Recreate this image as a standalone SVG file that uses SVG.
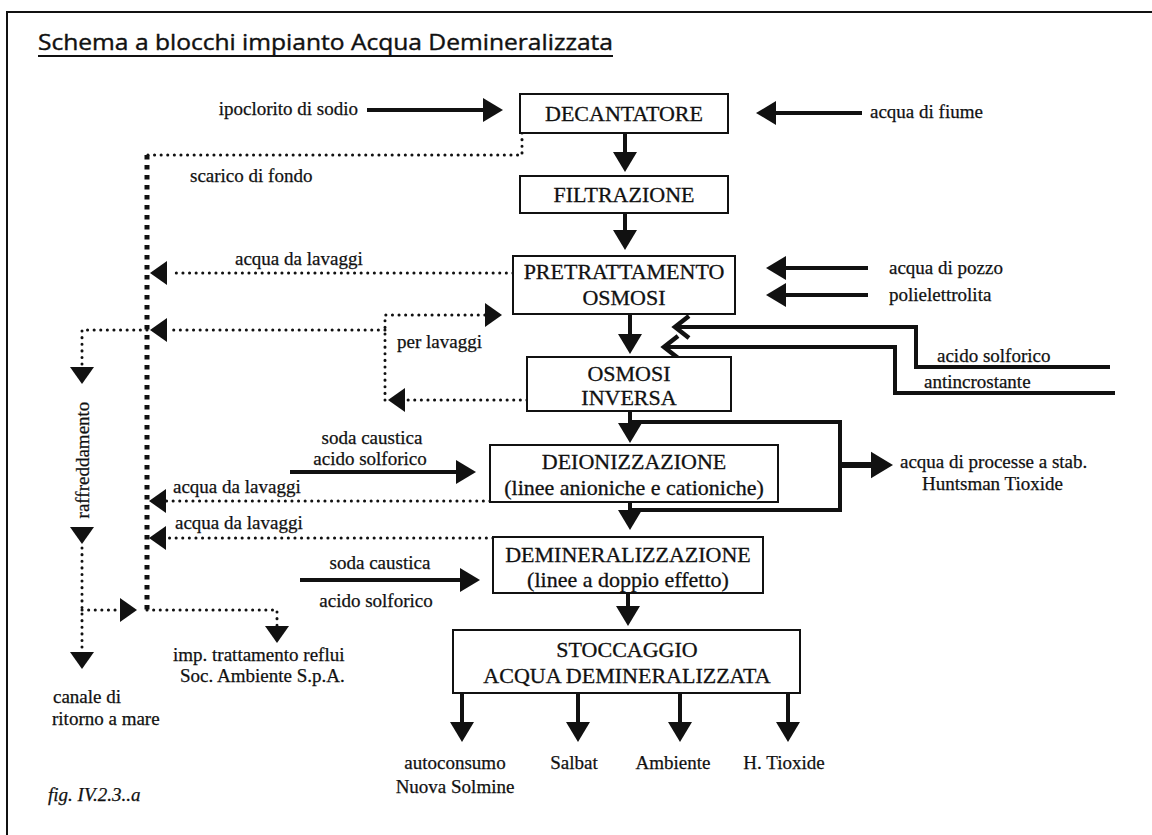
<svg xmlns="http://www.w3.org/2000/svg" xmlns:xlink="http://www.w3.org/1999/xlink" width="1152" height="835" viewBox="0 0 1152 835">
  <style>
    .box { fill: #fff; stroke: #111; stroke-width: 2; }
    .bt { font-family: "Liberation Serif", "Times New Roman", serif; font-size: 22px; fill: #111; stroke: #111; stroke-width: 0.3; text-anchor: middle; }
    .lb { font-family: "Liberation Serif", "Times New Roman", serif; font-size: 19px; fill: #111; stroke: #111; stroke-width: 0.25; }
    .mid { text-anchor: middle; }
    .solid { fill: none; stroke: #111; stroke-width: 4; }
    .dot { fill: none; stroke: #111; stroke-width: 3; stroke-dasharray: 0.1 6.5; stroke-linecap: round; }
    .dotmain { fill: none; stroke: #111; stroke-width: 5; stroke-dasharray: 4.5 5.5; }
    .head { fill: #111; }
  </style>
  <defs>
    <!-- filled arrowhead, tip at origin, pointing right -->
    <polygon id="ah" class="head" points="0,0 -20,-12 -20,12"/>
    <!-- smaller filled arrowhead for dotted flows -->
    <polygon id="ahs" class="head" points="0,0 -17,-12 -17,12"/>
    <!-- open chevron arrowhead pointing left -->
    <path id="chev" d="M14,-11 L0,0 L14,11" fill="none" stroke="#111" stroke-width="4.5"/>
  </defs>

  <rect width="1152" height="835" fill="#fff"/>
  <!-- page frame -->
  <path d="M7,835 V12 H1152" fill="none" stroke="#111" stroke-width="2"/>

  <g id="title">
    <text x="38" y="50" font-family="Open Sans, Lato, sans-serif" font-size="22" fill="#111" stroke="#111" stroke-width="0.4" textLength="575" lengthAdjust="spacingAndGlyphs">Schema a blocchi impianto Acqua Demineralizzata</text>
    <line x1="38" y1="56" x2="613" y2="56" stroke="#111" stroke-width="1.8"/>
  </g>

  <g id="connectors">
    <!-- main process chain -->
    <line class="solid" x1="625" y1="133" x2="625" y2="160"/>
    <use xlink:href="#ah" transform="translate(625,172) rotate(90)"/>
    <line class="solid" x1="625" y1="213" x2="625" y2="238"/>
    <use xlink:href="#ah" transform="translate(625,250) rotate(90)"/>
    <line class="solid" x1="630" y1="314" x2="630" y2="342"/>
    <use xlink:href="#ah" transform="translate(630,354) rotate(90)"/>
    <line class="solid" x1="630" y1="411" x2="630" y2="430"/>
    <use xlink:href="#ah" transform="translate(630,443) rotate(90)"/>
    <line class="solid" x1="630" y1="502" x2="630" y2="518"/>
    <use xlink:href="#ah" transform="translate(630,530) rotate(90)"/>
    <line class="solid" x1="628" y1="593" x2="628" y2="613"/>
    <use xlink:href="#ah" transform="translate(628,626) rotate(90)"/>

    <!-- chemical feeds -->
    <line class="solid" x1="367" y1="110" x2="490" y2="110"/>
    <use xlink:href="#ah" transform="translate(503,110)"/>
    <line class="solid" x1="862" y1="113" x2="770" y2="113"/>
    <use xlink:href="#ah" transform="translate(756,113) rotate(180)"/>
    <line class="solid" x1="868" y1="268" x2="780" y2="268"/>
    <use xlink:href="#ah" transform="translate(766,268) rotate(180)"/>
    <line class="solid" x1="868" y1="295" x2="780" y2="295"/>
    <use xlink:href="#ah" transform="translate(766,295) rotate(180)"/>
    <path class="solid" d="M1110,367 H916 V327 H677"/>
    <use xlink:href="#chev" transform="translate(675,327)"/>
    <path class="solid" d="M1115,393 H895 V347 H666"/>
    <use xlink:href="#chev" transform="translate(664,347)"/>
    <line class="solid" x1="290" y1="472" x2="462" y2="472"/>
    <use xlink:href="#ah" transform="translate(476,472)"/>
    <line class="solid" x1="300" y1="580" x2="466" y2="580"/>
    <use xlink:href="#ah" transform="translate(480,580)"/>

    <!-- bypass to process water -->
    <path class="solid" d="M632,422 H840 V510 H632"/>
    <line x1="840" y1="465" x2="874" y2="465" stroke="#111" stroke-width="6"/>
    <use xlink:href="#ah" transform="translate(893,465) scale(1.1)"/>

    <!-- bottom distribution -->
    <line class="solid" x1="462" y1="693" x2="462" y2="728"/>
    <use xlink:href="#ah" transform="translate(462,742) rotate(90)"/>
    <line class="solid" x1="578" y1="693" x2="578" y2="728"/>
    <use xlink:href="#ah" transform="translate(578,742) rotate(90)"/>
    <line class="solid" x1="680" y1="693" x2="680" y2="728"/>
    <use xlink:href="#ah" transform="translate(680,742) rotate(90)"/>
    <line class="solid" x1="788" y1="693" x2="788" y2="728"/>
    <use xlink:href="#ah" transform="translate(788,742) rotate(90)"/>

    <!-- drains and wash water -->
    <path class="dot" d="M522,133 V155 H147"/>
    <line class="dotmain" x1="147" y1="155" x2="147" y2="610"/>
    <line class="dot" x1="513" y1="273" x2="170" y2="273"/>
    <use xlink:href="#ahs" transform="translate(150,273) rotate(180)"/>
    <path class="dot" d="M527,400 H405"/>
    <use xlink:href="#ahs" transform="translate(388,400) rotate(180)"/>
    <path class="dot" d="M385,400 V315 H485"/>
    <use xlink:href="#ahs" transform="translate(502,315)"/>
    <line class="dot" x1="385" y1="330" x2="168" y2="330"/>
    <use xlink:href="#ahs" transform="translate(150,330) rotate(180)"/>
    <path class="dot" d="M147,330 H82 V368"/>
    <use xlink:href="#ahs" transform="translate(82,384) rotate(90)"/>
    <use xlink:href="#ahs" transform="translate(82,544) rotate(90)"/>
    <line class="dot" x1="82" y1="548" x2="82" y2="652"/>
    <use xlink:href="#ahs" transform="translate(82,669) rotate(90)"/>
    <line class="dot" x1="82" y1="610" x2="120" y2="610"/>
    <use xlink:href="#ahs" transform="translate(137,610)"/>
    <path class="dot" d="M147,610 H277 V627"/>
    <use xlink:href="#ahs" transform="translate(277,643) rotate(90)"/>
    <line class="dot" x1="490" y1="501" x2="166" y2="501"/>
    <use xlink:href="#ahs" transform="translate(149,501) rotate(180)"/>
    <line class="dot" x1="493" y1="538" x2="166" y2="538"/>
    <use xlink:href="#ahs" transform="translate(149,538) rotate(180)"/>
  </g>

  <g id="decantatore">
    <rect class="box" x="520" y="94" width="208" height="39"/>
    <text class="bt" x="624" y="121">DECANTATORE</text>
  </g>
  <g id="filtrazione">
    <rect class="box" x="520" y="176" width="208" height="37"/>
    <text class="bt" x="624" y="202">FILTRAZIONE</text>
  </g>
  <g id="pretrattamento">
    <rect class="box" x="513" y="256" width="222" height="58"/>
    <text class="bt" x="624" y="279">PRETRATTAMENTO</text>
    <text class="bt" x="624" y="305">OSMOSI</text>
  </g>
  <g id="osmosi-inversa">
    <rect class="box" x="527" y="357" width="204" height="54"/>
    <text class="bt" x="629" y="381">OSMOSI</text>
    <text class="bt" x="629" y="405">INVERSA</text>
  </g>
  <g id="deionizzazione">
    <rect class="box" x="490" y="445" width="288" height="57"/>
    <text class="bt" x="634" y="469">DEIONIZZAZIONE</text>
    <text class="bt" x="634" y="495">(linee anioniche e cationiche)</text>
  </g>
  <g id="demineralizzazione">
    <rect class="box" x="493" y="537" width="270" height="56"/>
    <text class="bt" x="628" y="562">DEMINERALIZZAZIONE</text>
    <text class="bt" x="628" y="587">(linee a doppio effetto)</text>
  </g>
  <g id="stoccaggio">
    <rect class="box" x="453" y="630" width="347" height="63"/>
    <text class="bt" x="627" y="657">STOCCAGGIO</text>
    <text class="bt" x="627" y="683">ACQUA DEMINERALIZZATA</text>
  </g>

  <g id="labels">
    <text class="lb" x="358" y="115" text-anchor="end">ipoclorito di sodio</text>
    <text class="lb" x="870" y="118">acqua di fiume</text>
    <text class="lb" x="190" y="182">scarico di fondo</text>
    <text class="lb" x="235" y="265">acqua da lavaggi</text>
    <text class="lb" x="889" y="274">acqua di pozzo</text>
    <text class="lb" x="889" y="301">polielettrolita</text>
    <text class="lb" x="397" y="348">per lavaggi</text>
    <text class="lb" x="937" y="362">acido solforico</text>
    <text class="lb" x="924" y="388">antincrostante</text>
    <text class="lb" x="82" y="460" text-anchor="middle" dominant-baseline="central" transform="rotate(-90 82 460)">raffreddamento</text>
    <text class="lb mid" x="372" y="444">soda caustica</text>
    <text class="lb mid" x="370" y="465">acido solforico</text>
    <text class="lb" x="173" y="493">acqua da lavaggi</text>
    <text class="lb" x="175" y="529">acqua da lavaggi</text>
    <text class="lb mid" x="380" y="569">soda caustica</text>
    <text class="lb mid" x="376" y="607">acido solforico</text>
    <text class="lb" x="900" y="468">acqua di processe a stab.</text>
    <text class="lb" x="922" y="490">Huntsman Tioxide</text>
    <text class="lb" x="173" y="661">imp. trattamento reflui</text>
    <text class="lb" x="180" y="682">Soc. Ambiente S.p.A.</text>
    <text class="lb" x="53" y="703">canale di</text>
    <text class="lb" x="52" y="725">ritorno a mare</text>
    <text class="lb mid" x="455" y="769">autoconsumo</text>
    <text class="lb mid" x="455" y="793">Nuova Solmine</text>
    <text class="lb mid" x="574" y="769">Salbat</text>
    <text class="lb mid" x="673" y="769">Ambiente</text>
    <text class="lb mid" x="784" y="769">H. Tioxide</text>
    <text class="lb" x="48" y="801" font-style="italic" font-size="16">fig. IV.2.3..a</text>
  </g>
</svg>
